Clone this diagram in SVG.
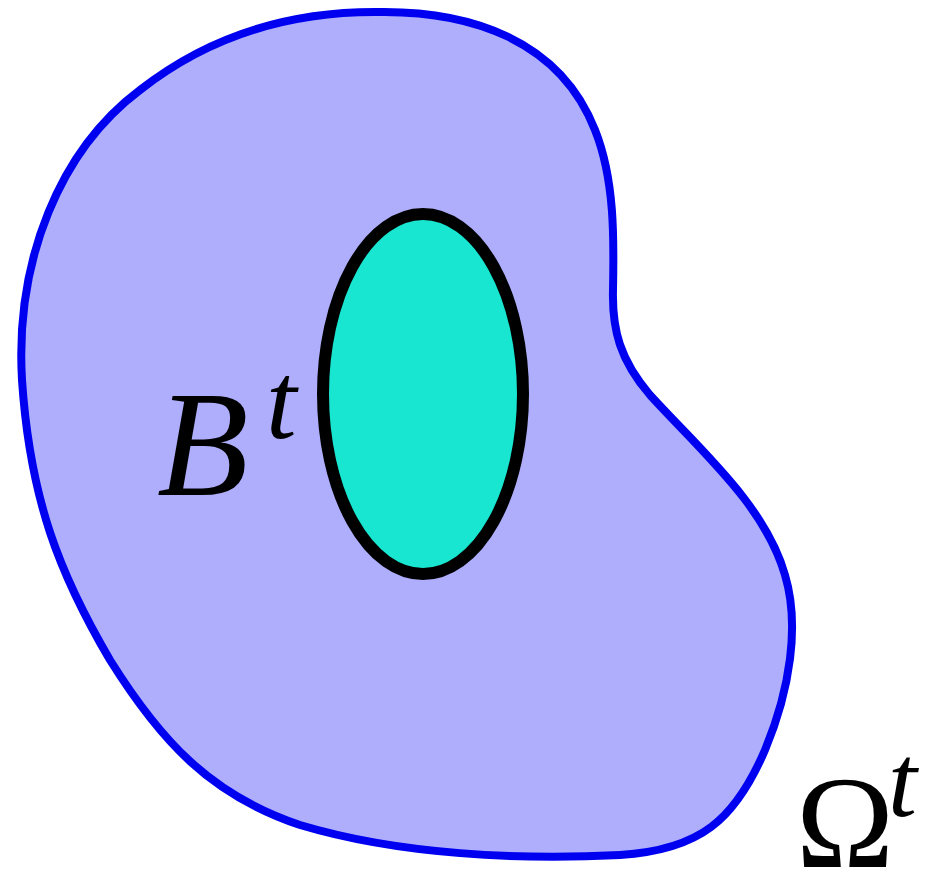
<svg xmlns="http://www.w3.org/2000/svg" width="943" height="876" viewBox="0 0 943 876">
<style>
.lbl{font-family:"Liberation Serif","DejaVu Serif",serif;fill:#000}
.it{font-style:italic}
</style>
<rect width="943" height="876" fill="#fff"/>
<g id="omega">
<path d="M 375 12 C 470 10, 560 40, 595 130 C 615 180, 614 240, 613 290 C 612 330, 620 360, 650 395 C 700 450, 765 505, 785 575 C 800 625, 790 690, 765 750 C 735 820, 700 850, 620 855 C 520 860, 400 855, 300 825 C 210 795, 160 740, 110 660 C 60 575, 30 500, 22 380 C 15 260, 60 150, 140 90 C 210 35, 290 12, 375 12 Z" fill="#aeaefd" stroke="#0000f0" stroke-width="8"/>
</g>
<g id="body">
<ellipse cx="423" cy="394" rx="100" ry="180" fill="#18e6d0" stroke="#000" stroke-width="12"/>
</g>
<g id="labels">
<text class="lbl it" x="157" y="495" font-size="150">B</text>
<text class="lbl it" x="266" y="438" font-size="110">t</text>
<text class="lbl" x="796" y="867" font-size="132">Ω</text>
<text class="lbl it" x="888" y="816" font-size="104">t</text>
</g>
</svg>
